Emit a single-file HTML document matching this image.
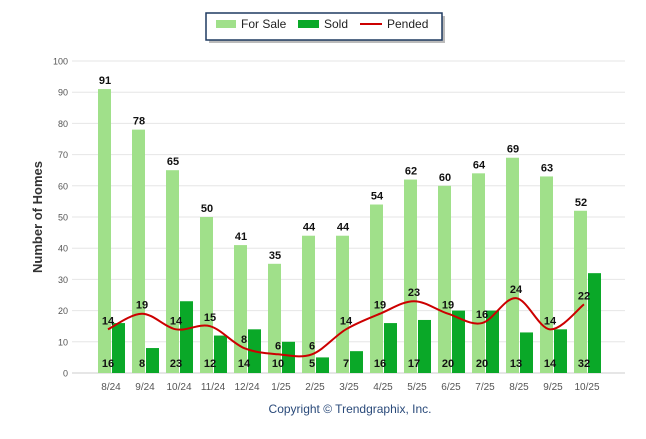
<!DOCTYPE html>
<html><head><meta charset="utf-8"><style>
body{margin:0;background:#fff;width:646px;height:434px;overflow:hidden;font-family:"Liberation Sans",sans-serif}
svg text{font-family:"Liberation Sans",sans-serif}
</style></head><body>
<svg id="chart" width="646" height="434" xmlns="http://www.w3.org/2000/svg">
<g>
<rect x="209" y="16" width="236" height="27" fill="#bbb"/>
<rect x="206" y="13" width="236" height="27" fill="#fff" stroke="#1f3a60" stroke-width="1.5"/>
<rect x="216" y="20" width="20" height="8" fill="#a0e08a"/>
<text x="241" y="28" font-size="12" fill="#222">For Sale</text>
<rect x="298" y="20" width="21" height="8" fill="#0aa828"/>
<text x="324" y="28" font-size="12" fill="#222">Sold</text>
<line x1="360" y1="24" x2="382" y2="24" stroke="#cc0000" stroke-width="2"/>
<text x="387" y="28" font-size="12" fill="#222">Pended</text>
</g>
<text transform="translate(42,217) rotate(-90)" text-anchor="middle" font-size="13" font-weight="bold" fill="#333">Number of Homes</text>
<text x="350" y="413" text-anchor="middle" font-size="12" fill="#2a4a7a">Copyright © Trendgraphix, Inc.</text>
<g id="grid"></g><g id="bars"></g><g id="line"></g><g id="labels"></g>
</svg>
<script>
const categories=["8/24","9/24","10/24","11/24","12/24","1/25","2/25","3/25","4/25","5/25","6/25","7/25","8/25","9/25","10/25"];
const forSale=[91,78,65,50,41,35,44,44,54,62,60,64,69,63,52];
const sold=[16,8,23,12,14,10,5,7,16,17,20,20,13,14,32];
const pended=[14,19,14,15,8,6,6,14,19,23,19,16,24,14,22];
const yTicks=[0,10,20,30,40,50,60,70,80,90,100];
const NS="http://www.w3.org/2000/svg";
const y=v=>373-v*3.12;
const x=i=>111+i*34;
function mk(tag,attrs,parent){const e=document.createElementNS(NS,tag);for(const k in attrs)e.setAttribute(k,attrs[k]);document.getElementById(parent).appendChild(e);return e;}
yTicks.forEach(t=>{
 const l=mk('line',{x1:72,x2:625,y1:y(t),y2:y(t),stroke:t===0?'#ccc':'#e6e6e6','stroke-width':1},'grid');
 
 
 const tx=mk('text',{x:68,y:y(t)+3.5,'text-anchor':'end','font-size':9,fill:'#555'},'grid');tx.textContent=t;
 
 
});
categories.forEach((c,i)=>{
 const tx=mk('text',{x:x(i),y:390,'text-anchor':'middle','font-size':10,fill:'#555'},'grid');tx.textContent=c;
 
 
 const a=mk('rect',{x:x(i)-13,y:y(forSale[i]),width:13,height:373-y(forSale[i]),fill:'#a0e08a'},'bars');
 
 
 const b=mk('rect',{x:x(i)+1,y:y(sold[i]),width:13,height:373-y(sold[i]),fill:'#0aa828'},'bars');
 
 
 const t1=mk('text',{x:x(i)-6,y:y(forSale[i])-5,'text-anchor':'middle','font-size':11,'font-weight':'bold',fill:'#111'},'labels');t1.textContent=forSale[i];
 
 
 const t2=mk('text',{x:x(i)-3,y:367,'text-anchor':'middle','font-size':11,'font-weight':'bold',fill:'#111'},'labels');t2.textContent=sold[i];
 
 
 const t3=mk('text',{x:x(i)-3,y:y(pended[i])-5,'text-anchor':'middle','font-size':11,'font-weight':'bold',fill:'#111'},'labels');t3.textContent=pended[i];
 
 
});
const pts=pended.map((v,i)=>[x(i)-3,y(v)]);
let d='M'+pts[0][0]+','+pts[0][1];
for(let i=0;i<pts.length-1;i++){
 const p0=pts[i-1]||pts[i],p1=pts[i],p2=pts[i+1],p3=pts[i+2]||p2;
 const c1=[p1[0]+(p2[0]-p0[0])/6,p1[1]+(p2[1]-p0[1])/6],c2=[p2[0]-(p3[0]-p1[0])/6,p2[1]-(p3[1]-p1[1])/6];
 d+=` C${c1[0]},${c1[1]} ${c2[0]},${c2[1]} ${p2[0]},${p2[1]}`;
}
const ln=mk('path',{d:d,fill:'none',stroke:'#cc0000','stroke-width':2},'line');


</script>
</body></html>
